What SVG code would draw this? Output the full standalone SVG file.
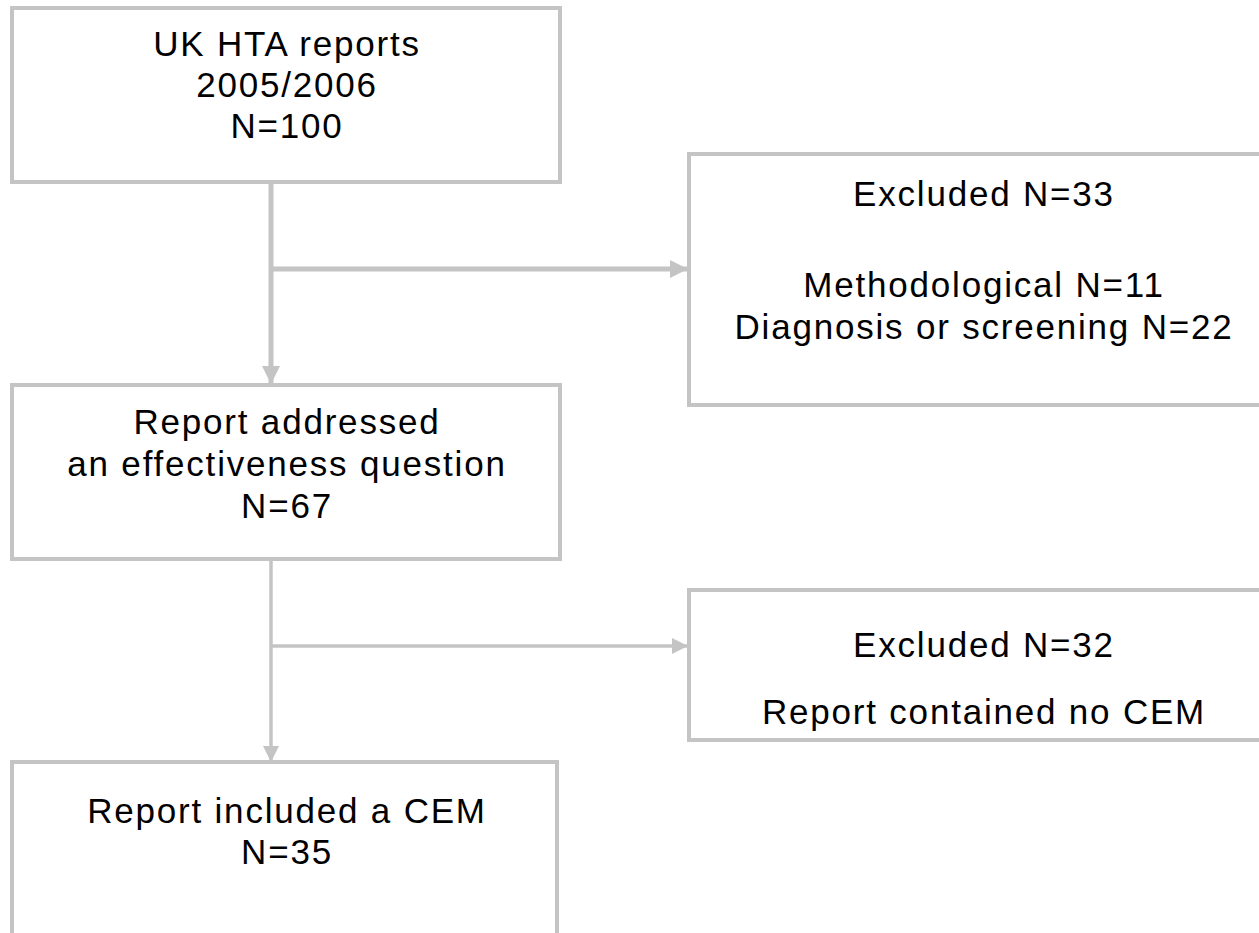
<svg xmlns="http://www.w3.org/2000/svg" width="1259" height="933" viewBox="0 0 1259 933">
<style>
.box{fill:#fff;stroke:#c4c4c4;stroke-width:4}
.t{font-family:"Liberation Sans",Arial,sans-serif;font-size:35px;fill:#000;text-anchor:middle;letter-spacing:1.8px}
.thick{stroke:#c4c4c4;stroke-width:5;fill:none}
.thin{stroke:#c4c4c4;stroke-width:3.5;fill:none}
</style>
<defs>
<marker id="ah" viewBox="0 0 10 10" refX="10" refY="5" markerWidth="4" markerHeight="3.6" markerUnits="strokeWidth" orient="auto">
<path d="M0,0 L10,5 L0,10 z" fill="#c4c4c4"/>
</marker>
<marker id="ah2" viewBox="0 0 10 10" refX="10" refY="5" markerWidth="4.6" markerHeight="4.6" markerUnits="strokeWidth" orient="auto">
<path d="M0,0 L10,5 L0,10 z" fill="#c4c4c4"/>
</marker>
</defs>
<rect width="1259" height="933" fill="#fff"/>
<g id="connectors">
<line class="thick" x1="271" y1="182" x2="271" y2="384" marker-end="url(#ah)"/>
<line class="thick" x1="271" y1="269" x2="688" y2="269" marker-end="url(#ah)"/>
<line class="thin" x1="271" y1="559" x2="271" y2="762" marker-end="url(#ah2)"/>
<line class="thin" x1="271" y1="646" x2="688" y2="646" marker-end="url(#ah2)"/>
</g>
<g id="n1">
<rect class="box" x="12" y="8" width="548" height="174"/>
<text class="t" x="287" y="56">UK HTA reports</text>
<text class="t" x="287" y="97">2005/2006</text>
<text class="t" x="287" y="138">N=100</text>
</g>
<g id="e1">
<rect class="box" x="689" y="154" width="590" height="251"/>
<text class="t" x="984" y="206">Excluded N=33</text>
<text class="t" x="984" y="297">Methodological N=11</text>
<text class="t" x="984" y="339">Diagnosis or screening N=22</text>
</g>
<g id="n2">
<rect class="box" x="12" y="385" width="548" height="174"/>
<text class="t" x="287" y="434">Report addressed</text>
<text class="t" x="287" y="476">an effectiveness question</text>
<text class="t" x="287" y="518">N=67</text>
</g>
<g id="e2">
<rect class="box" x="689" y="590" width="590" height="150"/>
<text class="t" x="984" y="657">Excluded N=32</text>
<text class="t" x="984" y="724">Report contained no CEM</text>
</g>
<g id="n3">
<rect class="box" x="12" y="762" width="545" height="200"/>
<text class="t" x="287" y="823">Report included a CEM</text>
<text class="t" x="287" y="864">N=35</text>
</g>
</svg>
